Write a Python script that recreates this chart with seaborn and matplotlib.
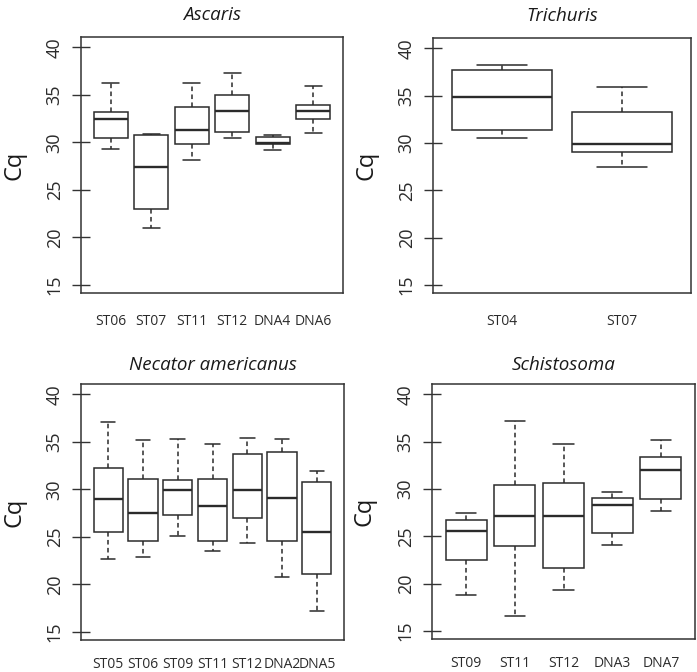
import matplotlib
matplotlib.use('Agg')
import matplotlib.pyplot as plt
import pandas as pd
import seaborn as sns

# five-number summaries: [min, q1, median, q3, max]
ascaris_sites = ['ST06', 'ST07', 'ST11', 'ST12', 'DNA4', 'DNA6']
ascaris_cq = [
    [29.3, 30.5, 32.5, 33.2, 36.3],
    [21.0, 23.0, 27.4, 30.8, 30.9],
    [28.1, 29.85, 31.3, 33.75, 36.3],
    [30.45, 31.1, 33.3, 35.0, 37.3],
    [29.25, 29.85, 29.9, 30.55, 30.8],
    [31.0, 32.5, 33.3, 33.9, 35.9],
]

trichuris_sites = ['ST04', 'ST07']
trichuris_cq = [
    [30.5, 31.35, 34.9, 37.7, 38.2],
    [27.5, 29.0, 29.9, 33.3, 35.9],
]

necator_sites = ['ST05', 'ST06', 'ST09', 'ST11', 'ST12', 'DNA2', 'DNA5']
necator_cq = [
    [22.7, 25.5, 29.0, 32.25, 37.05],
    [22.9, 24.55, 27.55, 31.15, 35.25],
    [25.1, 27.35, 29.95, 30.95, 35.3],
    [23.5, 24.55, 28.25, 31.15, 34.75],
    [24.4, 27.0, 29.95, 33.7, 35.4],
    [20.8, 24.55, 29.05, 33.9, 35.3],
    [17.2, 21.05, 25.55, 30.75, 31.9],
]

schisto_sites = ['ST09', 'ST11', 'ST12', 'DNA3', 'DNA7']
schisto_cq = [
    [18.75, 22.45, 25.6, 26.75, 27.45],
    [16.55, 24.0, 27.2, 30.4, 37.2],
    [19.35, 21.7, 27.15, 30.65, 34.8],
    [24.1, 25.4, 28.35, 29.1, 29.7],
    [27.65, 28.9, 32.05, 33.4, 35.2],
]

sns.set_style('white')
plt.rcParams['font.family'] = ['Open Sans', 'DejaVu Sans']

W, H = 697, 672
fig = plt.figure(figsize=(W / 100, H / 100), dpi=100)


def draw_panel(box, sites, cq, title, title_pad, xlab_pad):
    left, top, right, bottom = box
    ax = fig.add_axes([left / W, 1 - bottom / H, (right - left) / W, (bottom - top) / H])
    df = pd.DataFrame({
        'site': [s for s in sites for _ in range(5)],
        'cq': [v for vals in cq for v in vals],
    })
    sns.boxplot(data=df, x='site', y='cq', order=sites, ax=ax,
                whis=(0, 100), width=0.84, color='white', saturation=1,
                linecolor='#2b2b2b', linewidth=1.1, showfliers=False,
                medianprops={'linewidth': 1.7},
                whiskerprops={'linestyle': (0, (3, 2.2))})
    n = len(sites)
    ax.set_xlim(-0.5 - 0.04 * n, n - 0.5 + 0.04 * n)
    ax.set_ylim(14.15, 41.1)
    ax.set_yticks([15, 20, 25, 30, 35, 40])
    ax.tick_params(axis='y', direction='inout', length=13, width=1, color='#333333',
                   labelsize=13, pad=6, labelcolor='#2b2b2b', left=True)
    for lab in ax.get_yticklabels():
        lab.set_rotation(90)
        lab.set_va('center')
    ax.tick_params(axis='x', length=0, pad=xlab_pad, labelsize=10, labelcolor='#2b2b2b')
    ax.set_xlabel('')
    ax.set_ylabel('Cq', fontsize=17, color='#1a1a1a')
    ax.yaxis.set_label_coords(-55 / (right - left), 0.5)
    for sp in ax.spines.values():
        sp.set_visible(True)
        sp.set_color('#333333')
        sp.set_linewidth(1.1)
    ax.set_title(title, fontstyle='italic', fontsize=13.5, pad=title_pad, color='#1a1a1a')
    return ax


draw_panel((81, 37, 343, 293), ascaris_sites, ascaris_cq, 'Ascaris', 12, 15)
draw_panel((433, 38, 691, 293), trichuris_sites, trichuris_cq, 'Trichuris', 12, 15)
draw_panel((81, 384, 344, 640), necator_sites, necator_cq, 'Necator americanus', 10, 12)
draw_panel((432, 384, 695, 639), schisto_sites, schisto_cq, 'Schistosoma', 10, 12)

fig.savefig('out.png', dpi=100)
